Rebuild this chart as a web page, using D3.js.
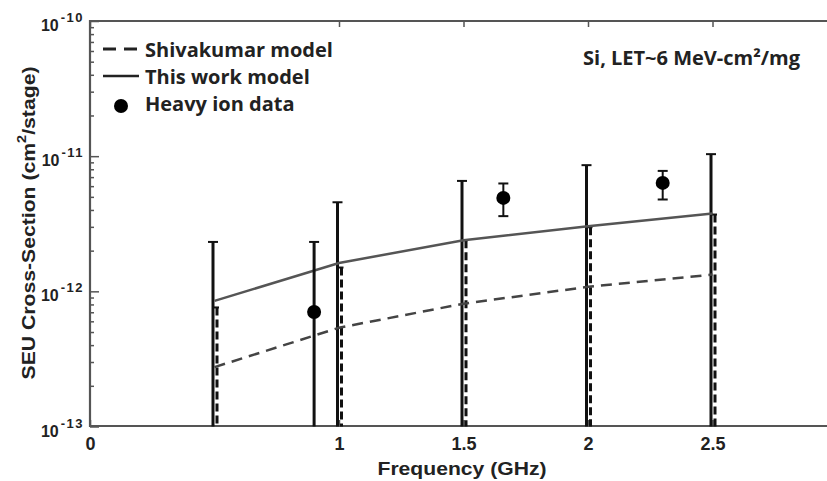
<!DOCTYPE html>
<html>
<head>
<meta charset="utf-8">
<script src="https://cdn.jsdelivr.net/npm/d3@7"></script>
<style>
    body { margin: 0; background: #fff; }
    svg { display: block; }
    .tick text { font-family: "Liberation Sans", Arial, sans-serif; font-weight: bold; }
</style>
</head>
<body>
<svg id="chart"></svg>
<script>
// frequencies (GHz) where the models are evaluated
let frequencies = [0.5, 1.0, 1.5, 2.0, 2.5];
// cross-section values (cm2/stage)
let thisWorkModel = [8.5e-13, 1.62e-12, 2.39e-12, 3.03e-12, 3.77e-12];
let shivakumarModel = [2.75e-13, 5.38e-13, 8.1e-13, 1.08e-12, 1.33e-12];
let thisWorkErrHigh = [2.32e-12, 4.56e-12, 6.56e-12, 8.58e-12, 1.035e-11];
let shivakumarErrHigh = [7.6e-13, 1.5e-12, 2.39e-12, 2.98e-12, 3.7e-12];
let errLow = [1e-13, 1e-13, 1e-13, 1e-13, 1e-13];

// heavy ion measurements
let ionFreq = [0.9, 1.66, 2.3];
let ionValue = [7.03e-13, 4.91e-12, 6.34e-12];
let ionErrHigh = [2.32e-12, 6.28e-12, 7.78e-12];
let ionErrLow = [1e-13, 3.6e-12, 4.78e-12];

let xTicks = [0, 1, 1.5, 2, 2.5];
let yTicks = [1e-13, 1e-12, 1e-11, 1e-10];
let yTickExp = ["-13", "-12", "-11", "-10"];

let legendLabels = ["Shivakumar model", "This work model", "Heavy ion data"];
let note = "Si, LET~6 MeV-cm\u00b2/mg";

let width = 827, height = 481;
let margin = {top: 21, left: 90, bottom: 55};
let plotBottom = height - margin.bottom;

let svg = d3.select("#chart")
    .attr("width", width)
    .attr("height", height);

let x = d3.scaleLinear().domain([0, 3]).range([margin.left, 837]);
let y = d3.scaleLog().domain([1e-13, 1e-10]).range([plotBottom + 0.5, margin.top]);

let minorTicks = [];
yTicks.slice(0, 3).forEach(function (d) {
    for (let k = 2; k <= 9; k++) minorTicks.push(d * k);
});

// axes, ticks pointing inwards
let xAxis = d3.axisBottom(x).tickValues(xTicks).tickFormat(d3.format(""))
    .tickSizeInner(-6).tickSizeOuter(0).tickPadding(11);
let xAxisTop = d3.axisTop(x).tickValues(xTicks).tickFormat("")
    .tickSizeInner(-6).tickSizeOuter(0);
let yAxis = d3.axisLeft(y).tickValues(yTicks).tickFormat("")
    .tickSizeInner(-9).tickSizeOuter(0);
let yMinor = d3.axisLeft(y).tickValues(minorTicks).tickFormat("")
    .tickSizeInner(-4).tickSizeOuter(0);
let yAxisRight = d3.axisRight(y).tickValues(yTicks).tickFormat("")
    .tickSizeInner(-9).tickSizeOuter(0);
let yMinorRight = d3.axisRight(y).tickValues(minorTicks).tickFormat("")
    .tickSizeInner(-4).tickSizeOuter(0);

svg.append("g").attr("transform", "translate(0," + plotBottom + ")").call(xAxis)
    .selectAll("text").style("font-size", "18px").attr("fill", "#222");
svg.append("g").attr("transform", "translate(0," + margin.top + ")").call(xAxisTop);
svg.append("g").attr("transform", "translate(" + margin.left + ",0)").call(yAxis);
svg.append("g").attr("transform", "translate(" + margin.left + ",0)").call(yMinor);
svg.append("g").attr("transform", "translate(837,0)").call(yAxisRight);
svg.append("g").attr("transform", "translate(837,0)").call(yMinorRight);

svg.selectAll(".domain").remove();
svg.selectAll(".tick line").attr("stroke", "#555").attr("stroke-width", 1.5);

// frame
svg.append("path")
    .attr("d", "M837," + margin.top + "H" + margin.left + "V" + plotBottom + "H837")
    .attr("fill", "none")
    .attr("stroke", "#555")
    .attr("stroke-width", 2.2);

// y tick labels 10^n
let yLab = svg.append("g").selectAll("text")
    .data(yTicks)
    .enter().append("text")
    .attr("x", 84)
    .attr("y", function (d) { return y(d) + 10; })
    .attr("text-anchor", "end")
    .style("font-family", "Liberation Sans, Arial, sans-serif")
    .style("font-weight", "bold")
    .style("font-size", "16px")
    .attr("fill", "#222");
yLab.append("tspan").text("10");
yLab.append("tspan")
    .attr("dx", 2)
    .attr("dy", -9)
    .style("font-size", "13px")
    .style("letter-spacing", "1.5px")
    .text(function (d, i) { return yTickExp[i]; });

// axis titles
svg.append("text")
    .attr("x", 462)
    .attr("y", 475)
    .attr("text-anchor", "middle")
    .attr("textLength", 169)
    .attr("lengthAdjust", "spacingAndGlyphs")
    .style("font-family", "Liberation Sans, Arial, sans-serif")
    .style("font-weight", "bold")
    .style("font-size", "19px")
    .attr("fill", "#222")
    .text("Frequency (GHz)");

let yTitle = svg.append("text")
    .attr("transform", "translate(35,223) rotate(-90)")
    .attr("text-anchor", "middle")
    .attr("textLength", 313)
    .attr("lengthAdjust", "spacingAndGlyphs")
    .style("font-family", "Liberation Sans, Arial, sans-serif")
    .style("font-weight", "bold")
    .style("font-size", "19px")
    .attr("fill", "#222");
yTitle.append("tspan").text("SEU Cross-Section (cm");
yTitle.append("tspan").attr("dy", -9).style("font-size", "13px").text("2");
yTitle.append("tspan").attr("dy", 9).text("/stage)");

// model error bars: solid for this work, dashed for Shivakumar
let bars = svg.append("g");
frequencies.forEach(function (f, i) {
    let xs = x(f) - 1.5;
    bars.append("line")
        .attr("x1", xs).attr("x2", xs)
        .attr("y1", y(thisWorkErrHigh[i])).attr("y2", y(errLow[i]))
        .attr("stroke", "#111").attr("stroke-width", 3);
    bars.append("line")
        .attr("x1", xs - 5).attr("x2", xs + 5)
        .attr("y1", y(thisWorkErrHigh[i])).attr("y2", y(thisWorkErrHigh[i]))
        .attr("stroke", "#111").attr("stroke-width", 2);

    let xd = x(f) + 2.5;
    bars.append("line")
        .attr("x1", xd).attr("x2", xd)
        .attr("y1", y(shivakumarErrHigh[i])).attr("y2", y(errLow[i]))
        .attr("stroke", "#111").attr("stroke-width", 3)
        .attr("stroke-dasharray", "8,4");
    bars.append("line")
        .attr("x1", xd - 5).attr("x2", xd + 2)
        .attr("y1", y(shivakumarErrHigh[i])).attr("y2", y(shivakumarErrHigh[i]))
        .attr("stroke", "#111").attr("stroke-width", 2);
});

// model lines
let line = d3.line()
    .x(function (d) { return x(d[0]); })
    .y(function (d) { return y(d[1]); });

svg.append("path")
    .datum(d3.zip(frequencies, shivakumarModel))
    .attr("d", line)
    .attr("fill", "none")
    .attr("stroke", "#444")
    .attr("stroke-width", 2.5)
    .attr("stroke-dasharray", "11,7");

svg.append("path")
    .datum(d3.zip(frequencies, thisWorkModel))
    .attr("d", line)
    .attr("fill", "none")
    .attr("stroke", "#555")
    .attr("stroke-width", 2.5);

// heavy ion data with error bars
let ion = svg.append("g").selectAll("g")
    .data(d3.range(ionFreq.length))
    .enter().append("g");
ion.append("line")
    .attr("x1", function (i) { return x(ionFreq[i]); })
    .attr("x2", function (i) { return x(ionFreq[i]); })
    .attr("y1", function (i) { return y(ionErrHigh[i]); })
    .attr("y2", function (i) { return y(ionErrLow[i]); })
    .attr("stroke", "#111")
    .attr("stroke-width", function (i) { return i === 0 ? 3 : 2; });
[ionErrHigh, ionErrLow].forEach(function (arr, k) {
    ion.filter(function (i) { return k === 0 || i > 0; })
        .append("line")
        .attr("x1", function (i) { return x(ionFreq[i]) - 5; })
        .attr("x2", function (i) { return x(ionFreq[i]) + 5; })
        .attr("y1", function (i) { return y(arr[i]); })
        .attr("y2", function (i) { return y(arr[i]); })
        .attr("stroke", "#111")
        .attr("stroke-width", 2);
});
ion.append("circle")
    .attr("cx", function (i) { return x(ionFreq[i]); })
    .attr("cy", function (i) { return y(ionValue[i]); })
    .attr("r", 7)
    .attr("fill", "#000");

// legend
let legend = svg.append("g");
let legendY = [49, 76, 103];
legend.append("line")
    .attr("x1", 103).attr("x2", 138)
    .attr("y1", legendY[0]).attr("y2", legendY[0])
    .attr("stroke", "#222").attr("stroke-width", 3)
    .attr("stroke-dasharray", "13,8");
legend.append("line")
    .attr("x1", 103).attr("x2", 139)
    .attr("y1", legendY[1]).attr("y2", legendY[1])
    .attr("stroke", "#222").attr("stroke-width", 2.5);
legend.append("circle")
    .attr("cx", 121).attr("cy", legendY[2] + 3)
    .attr("r", 7).attr("fill", "#000");
legend.selectAll("text")
    .data(legendLabels)
    .enter().append("text")
    .attr("x", 145)
    .attr("y", function (d, i) { return legendY[i] + 8; })
    .style("font-family", "Open Sans, sans-serif")
    .style("font-weight", "bold")
    .style("font-size", "20px")
    .attr("fill", "#222")
    .text(function (d) { return d; });

svg.append("text")
    .attr("x", 800)
    .attr("y", 65)
    .attr("text-anchor", "end")
    .style("font-family", "Open Sans, sans-serif")
    .style("font-weight", "bold")
    .style("font-size", "20px")
    .attr("fill", "#222")
    .text(note);
</script>
</body>
</html>
